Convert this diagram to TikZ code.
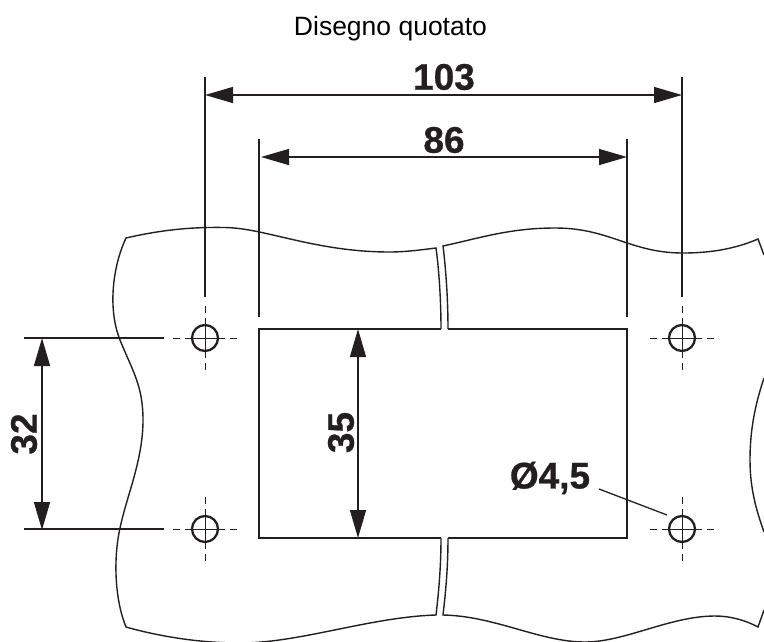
\documentclass[tikz,border=0pt]{standalone}
\usepackage{fontspec}
\setmainfont[BoldFeatures={FakeBold=0.7}]{Liberation Sans}
\usepackage{xcolor}
\usetikzlibrary{arrows.meta,positioning}
\definecolor{inkcol}{HTML}{231F20}
\tikzset{
  every node/.style={inner sep=0pt, text=inkcol},
  dimtext/.style={font=\fontsize{37}{37}\selectfont\bfseries},
  titletext/.style={font=\fontsize{26.5}{26.5}\selectfont, text=black},
  extline/.style={draw=inkcol, line width=1.3pt},
  cutline/.style={draw=inkcol, line width=2.5pt},
  wavyline/.style={draw=inkcol, line width=1.4pt, line join=miter},
  centerline/.style={draw=inkcol, line width=0.9pt},
  hole/.style={circle, draw=inkcol, line width=2.3pt, minimum size=26pt},
  dimarrow/.style={draw=inkcol, line width=1.4pt, {Triangle[length=28pt,width=16pt]}-{Triangle[length=28pt,width=16pt]}}
}

\begin{document}
\begin{tikzpicture}[x=1pt, y=-1pt]
\useasboundingbox (0,0) rectangle (764,641);

% Holes
\node[hole] (holeTL) at (205,338) {};
\node[hole] (holeTR) at (682,338) {};
\node[hole] (holeBL) at (205,529) {};
\node[hole] (holeBR) at (682,529) {};

% Center marks of the holes
\foreach \h in {holeTL,holeTR,holeBL,holeBR} {
  \draw[centerline] ([xshift=-20pt]\h.center) -- ([xshift=20pt]\h.center);
  \draw[centerline] ([yshift=-20pt]\h.center) -- ([yshift=20pt]\h.center);
  \draw[centerline] ([xshift=-32pt]\h.center) -- ([xshift=-25pt]\h.center);
  \draw[centerline] ([xshift=25pt]\h.center) -- ([xshift=32pt]\h.center);
  \draw[centerline] ([yshift=-32pt]\h.center) -- ([yshift=-25pt]\h.center);
  \draw[centerline] ([yshift=25pt]\h.center) -- ([yshift=32pt]\h.center);
}

% Cut-out with its two breaks
\coordinate (cutTLa) at (259,329);
\coordinate (cutTLb) at (441,329);
\coordinate (cutTRa) at (448,329);
\coordinate (cutTRb) at (627,329);
\coordinate (cutBRa) at (627,538);
\coordinate (cutBRb) at (448,538);
\coordinate (cutBLa) at (441,538);
\coordinate (cutBLb) at (259,538);
\draw[cutline, line join=miter] (cutTLb) -- (cutTLa) -- (cutBLb) -- (cutBLa);
\draw[cutline, line join=miter] (cutTRa) -- (cutTRb) -- (cutBRa) -- (cutBRb);

% Left part of the panel
\draw[wavyline] (441,329) .. controls (441,300) and (439,270) .. (436,248)
  .. controls (420,250) and (405,252) .. (390,252)
  .. controls (315,252) and (265,228) .. (225,227.5)
  .. controls (195,227) and (165,229) .. (126,238)
  .. controls (112,268) and (108,310) .. (120,340)
  .. controls (132,370) and (143,385) .. (143,420)
  .. controls (143,460) and (127,495) .. (120,528)
  .. controls (113,560) and (115,600) .. (126,627)
  .. controls (165,638) and (205,643) .. (240,643)
  .. controls (300,643) and (370,617) .. (436,615)
  .. controls (439,590) and (441,565) .. (441,538);

% Right part of the panel
\draw[wavyline] (448,329) .. controls (448,300) and (446,270) .. (443,246)
  .. controls (480,238) and (510,228) .. (555,228)
  .. controls (610,228) and (630,253) .. (683,253)
  .. controls (710,253) and (735,249) .. (758,239) -- (764,255);
\draw[wavyline] (764,378) .. controls (755,405) and (750,430) .. (750,460)
  .. controls (750,490) and (757,512) .. (764,532);
\draw[wavyline] (448,538) .. controls (448,565) and (446,590) .. (443,615)
  .. controls (495,616) and (540,642) .. (585,642)
  .. controls (625,642) and (670,616) .. (715,616)
  .. controls (730,616) and (745,620) .. (758,627) -- (764,610);

% Extension lines
\coordinate (extA1) at (205,77);
\coordinate (extA2) at (205,297);
\coordinate (extB1) at (682,77);
\coordinate (extB2) at (682,297);
\coordinate (extC1) at (259,139);
\coordinate (extC2) at (259,317);
\coordinate (extD1) at (627,139);
\coordinate (extD2) at (627,317);
\coordinate (extE1) at (24,338);
\coordinate (extE2) at (164,338);
\coordinate (extF1) at (24,529);
\coordinate (extF2) at (164,529);
\foreach \a/\b in {extA1/extA2,extB1/extB2,extC1/extC2,extD1/extD2,extE1/extE2,extF1/extF2}
  \draw[extline] (\a) -- (\b);

% Dimension arrows
\coordinate (dimA1) at (205,95);
\coordinate (dimA2) at (682,95);
\coordinate (dimB1) at (261,157);
\coordinate (dimB2) at (627,157);
\coordinate (dimC1) at (42,338);
\coordinate (dimC2) at (42,530);
\coordinate (dimD1) at (358,329);
\coordinate (dimD2) at (358,538);
\foreach \a/\b in {dimA1/dimA2,dimB1/dimB2,dimC1/dimC2,dimD1/dimD2}
  \draw[dimarrow] (\a) -- (\b);

% Labels
\node[titletext] (title) at (390.5,29) {Disegno quotato};
\node[dimtext] (dimTop) at (444,77) {103};
\node[dimtext] (dimMid) at (444,140) {86};
\node[dimtext, rotate=90] (dimLeft) at (24,434) {32};
\node[dimtext, rotate=90] (dimIn) at (341,432.5) {35};
\node[dimtext] (dimDia) at (550,478) {Ø4,5};

% Leader to the hole
\coordinate (leadA) at (599,489);
\coordinate (leadB) at (667,515);
\draw[extline] (leadA) -- (leadB);

\end{tikzpicture}
\end{document}
